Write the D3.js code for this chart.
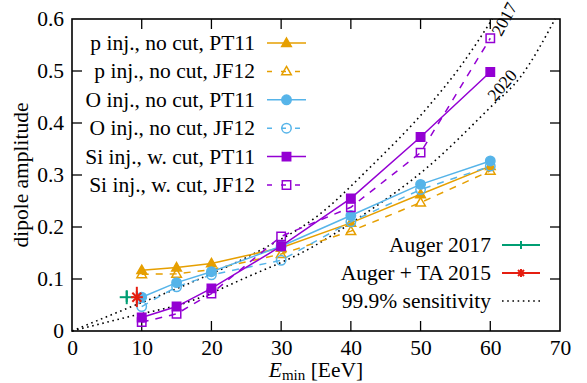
<!DOCTYPE html>
<html>
<head>
<meta charset="utf-8">
<script src="https://cdn.jsdelivr.net/npm/d3@7"></script>
<style>
  body { margin: 0; background: #fff; }
  svg { display: block; }
  text { font-family: "Liberation Serif", "DejaVu Serif", serif; fill: #000; }
</style>
</head>
<body>
<script>
// data
const energies = [10, 15, 20, 30, 40, 50, 60];
const pPT11  = [0.117, 0.122, 0.130, 0.160, 0.208, 0.263, 0.317];
const pJF12  = [0.109, 0.110, 0.118, 0.148, 0.192, 0.247, 0.308];
const oPT11  = [0.065, 0.093, 0.114, 0.163, 0.222, 0.282, 0.327];
const oJF12  = [0.047, 0.085, 0.108, 0.136, 0.210, 0.272, 0.317];
const siPT11 = [0.026, 0.047, 0.082, 0.163, 0.255, 0.373, 0.498];
const siJF12 = [0.017, 0.033, 0.072, 0.182, 0.238, 0.343, 0.563];

// 99.9% sensitivity curves [Emin, amplitude]
const sens2017 = [[0, 0], [8, 0.044], [16.7, 0.091], [27.4, 0.158], [35, 0.219], [43, 0.318], [51, 0.43], [56, 0.514], [60.3, 0.6]];
const sens2020 = [[0, 0], [8, 0.027], [16.7, 0.056], [25, 0.103], [34, 0.158], [41.3, 0.219], [51, 0.315], [60, 0.43], [64.3, 0.488], [69.3, 0.6]];

// measurements [E, amplitude, low, high]
const auger2017 = [7.85, 0.065, 0.056, 0.077];
const augerTA2015 = [9.3, 0.065, 0.046, 0.085];

const xTicks = [0, 10, 20, 30, 40, 50, 60, 70];
const yTicks = [0, 0.1, 0.2, 0.3, 0.4, 0.5, 0.6];

const series = [
  {name: 'p inj., no cut, PT11', values: pPT11, color: '#e69f00', dash: null, marker: 'triangle', fill: true},
  {name: 'p inj., no cut, JF12', values: pJF12, color: '#e69f00', dash: '7,7', marker: 'triangle', fill: false},
  {name: 'O inj., no cut, PT11', values: oPT11, color: '#56b4e9', dash: null, marker: 'circle', fill: true},
  {name: 'O inj., no cut, JF12', values: oJF12, color: '#56b4e9', dash: '7,7', marker: 'circle', fill: false},
  {name: 'Si inj., w. cut, PT11', values: siPT11, color: '#9400d3', dash: null, marker: 'square', fill: true},
  {name: 'Si inj., w. cut, JF12', values: siJF12, color: '#9400d3', dash: '7,7', marker: 'square', fill: false}
];

const W = 587, H = 383;
const margin = {top: 19, right: 27, bottom: 52, left: 72};
const fs = 21.5;

const x = d3.scaleLinear().domain([0, 70]).range([margin.left, W - margin.right]);
const y = d3.scaleLinear().domain([0, 0.6]).range([H - margin.bottom, margin.top]);

const svg = d3.select('body').append('svg')
  .attr('width', W)
  .attr('height', H);

function markerPath(kind) {
  if (kind === 'circle') return 'M-4.7,0a4.7,4.7 0 1,0 9.4,0a4.7,4.7 0 1,0 -9.4,0Z';
  if (kind === 'square') return 'M-4.2,-4.2H4.2V4.2H-4.2Z';
  return 'M0,-5L4.8,3.4H-4.8Z';
}

function drawMarker(g, kind, filled, color, cx, cy) {
  g.append('path')
    .attr('d', markerPath(kind))
    .attr('transform', 'translate(' + cx + ',' + cy + ')')
    .attr('fill', filled ? color : 'none')
    .attr('stroke', color)
    .attr('stroke-width', 1.5);
}

// ticks (inside, on all four sides)
const tickLen = 10;
const ticks = svg.append('g').attr('stroke', '#000').attr('stroke-width', 1.3);
xTicks.slice(1, -1).forEach(function(t) {
  ticks.append('line').attr('x1', x(t)).attr('x2', x(t)).attr('y1', y(0)).attr('y2', y(0) - tickLen);
  ticks.append('line').attr('x1', x(t)).attr('x2', x(t)).attr('y1', y(0.6)).attr('y2', y(0.6) + tickLen);
});
yTicks.slice(1, -1).forEach(function(t) {
  ticks.append('line').attr('x1', x(0)).attr('x2', x(0) + tickLen).attr('y1', y(t)).attr('y2', y(t));
  ticks.append('line').attr('x1', x(70)).attr('x2', x(70) - tickLen).attr('y1', y(t)).attr('y2', y(t));
});

// tick labels
const xAxis = d3.axisBottom(x).tickValues(xTicks).tickSize(0).tickPadding(9).tickFormat(d3.format('d'));
const yAxis = d3.axisLeft(y).tickValues(yTicks).tickSize(0).tickPadding(8)
  .tickFormat(function(d) { return d === 0 ? '0' : d3.format('.1f')(d); });

svg.append('g')
  .attr('transform', 'translate(0,' + y(0) + ')')
  .call(xAxis)
  .call(function(g) { g.select('.domain').remove(); })
  .selectAll('text')
  .attr('font-size', fs);

svg.append('g')
  .attr('transform', 'translate(' + x(0) + ',0)')
  .call(yAxis)
  .call(function(g) { g.select('.domain').remove(); })
  .selectAll('text')
  .attr('font-size', fs);

// sensitivity curves
const sensLine = d3.line()
  .x(function(d) { return x(d[0]); })
  .y(function(d) { return y(d[1]); })
  .curve(d3.curveMonotoneX);

[sens2017, sens2020].forEach(function(c) {
  svg.append('path')
    .datum(c)
    .attr('d', sensLine)
    .attr('fill', 'none')
    .attr('stroke', '#000')
    .attr('stroke-width', 1.6)
    .attr('stroke-dasharray', '1.6,3.6');
});

svg.append('text')
  .attr('transform', 'translate(504,19) rotate(-62)')
  .attr('text-anchor', 'middle')
  .attr('dy', '0.35em')
  .attr('font-size', 17.5)
  .text('2017');

svg.append('text')
  .attr('transform', 'translate(502,85) rotate(-49)')
  .attr('text-anchor', 'middle')
  .attr('dy', '0.35em')
  .attr('font-size', 17.5)
  .text('2020');

// model series
const line = d3.line()
  .x(function(d) { return x(d[0]); })
  .y(function(d) { return y(d[1]); });

series.forEach(function(s) {
  const pts = energies.map(function(e, i) { return [e, s.values[i]]; });
  const g = svg.append('g');
  g.append('path')
    .datum(pts)
    .attr('d', line)
    .attr('fill', 'none')
    .attr('stroke', s.color)
    .attr('stroke-width', 1.5)
    .attr('stroke-dasharray', s.dash);
  pts.forEach(function(p) {
    drawMarker(g, s.marker, s.fill, s.color, x(p[0]), y(p[1]));
  });
});

// measurements
function plusMark(g, color, cx, cy, r) {
  g.append('line').attr('x1', cx - r).attr('x2', cx + r).attr('y1', cy).attr('y2', cy)
    .attr('stroke', color).attr('stroke-width', 2);
  g.append('line').attr('x1', cx).attr('x2', cx).attr('y1', cy - r).attr('y2', cy + r)
    .attr('stroke', color).attr('stroke-width', 2);
}
function starMark(g, color, cx, cy, r) {
  plusMark(g, color, cx, cy, r);
  const k = r * 0.75;
  g.append('line').attr('x1', cx - k).attr('x2', cx + k).attr('y1', cy - k).attr('y2', cy + k)
    .attr('stroke', color).attr('stroke-width', 2);
  g.append('line').attr('x1', cx - k).attr('x2', cx + k).attr('y1', cy + k).attr('y2', cy - k)
    .attr('stroke', color).attr('stroke-width', 2);
}

const meas = svg.append('g');
meas.append('line')
  .attr('x1', x(auger2017[0])).attr('x2', x(auger2017[0]))
  .attr('y1', y(auger2017[2])).attr('y2', y(auger2017[3]))
  .attr('stroke', '#009e73').attr('stroke-width', 2);
plusMark(meas, '#009e73', x(auger2017[0]), y(auger2017[1]), 7);
meas.append('line')
  .attr('x1', x(augerTA2015[0])).attr('x2', x(augerTA2015[0]))
  .attr('y1', y(augerTA2015[2])).attr('y2', y(augerTA2015[3]))
  .attr('stroke', '#e51e10').attr('stroke-width', 2);
starMark(meas, '#e51e10', x(augerTA2015[0]), y(augerTA2015[1]), 6);

// frame
svg.append('rect')
  .attr('x', x(0)).attr('y', y(0.6))
  .attr('width', x(70) - x(0)).attr('height', y(0) - y(0.6))
  .attr('fill', 'none')
  .attr('stroke', '#000')
  .attr('stroke-width', 1.6);

// legend, top left
const leg = svg.append('g');
series.forEach(function(s, i) {
  const cy = 43 + i * 28.4;
  leg.append('text')
    .attr('x', 255).attr('y', cy).attr('dy', '0.33em')
    .attr('text-anchor', 'end')
    .attr('font-size', fs)
    .text(s.name);
  leg.append('line')
    .attr('x1', 267).attr('x2', 306).attr('y1', cy).attr('y2', cy)
    .attr('stroke', s.color).attr('stroke-width', 1.5)
    .attr('stroke-dasharray', s.dash ? '5,9' : null);
  drawMarker(leg, s.marker, s.fill, s.color, 286.5, cy);
});

// legend, bottom right
const leg2 = svg.append('g');
const leg2Rows = ['Auger 2017', 'Auger + TA 2015', '99.9% sensitivity'];
leg2Rows.forEach(function(t, i) {
  const cy = 245 + i * 28;
  leg2.append('text')
    .attr('x', 491).attr('y', cy).attr('dy', '0.33em')
    .attr('text-anchor', 'end')
    .attr('font-size', fs)
    .text(t);
});
leg2.append('line').attr('x1', 502).attr('x2', 540).attr('y1', 245).attr('y2', 245)
  .attr('stroke', '#009e73').attr('stroke-width', 2);
plusMark(leg2, '#009e73', 521, 245, 4);
leg2.append('line').attr('x1', 502).attr('x2', 540).attr('y1', 273).attr('y2', 273)
  .attr('stroke', '#e51e10').attr('stroke-width', 2);
starMark(leg2, '#e51e10', 521, 273, 4);
leg2.append('line').attr('x1', 502).attr('x2', 540).attr('y1', 301).attr('y2', 301)
  .attr('stroke', '#000').attr('stroke-width', 1.6).attr('stroke-dasharray', '1.6,3.6');

// axis titles
svg.append('text')
  .attr('transform', 'translate(21,' + y(0.3) + ') rotate(-90)')
  .attr('text-anchor', 'middle')
  .attr('dy', '0.33em')
  .attr('font-size', fs)
  .text('dipole amplitude');

const xl = svg.append('text')
  .attr('x', x(35)).attr('y', 377)
  .attr('text-anchor', 'middle')
  .attr('font-size', fs);
xl.append('tspan').attr('font-style', 'italic').text('E');
xl.append('tspan').attr('font-size', 15).attr('dy', 3).text('min');
xl.append('tspan').attr('dy', -3).text(' [EeV]');
</script>
</body>
</html>
